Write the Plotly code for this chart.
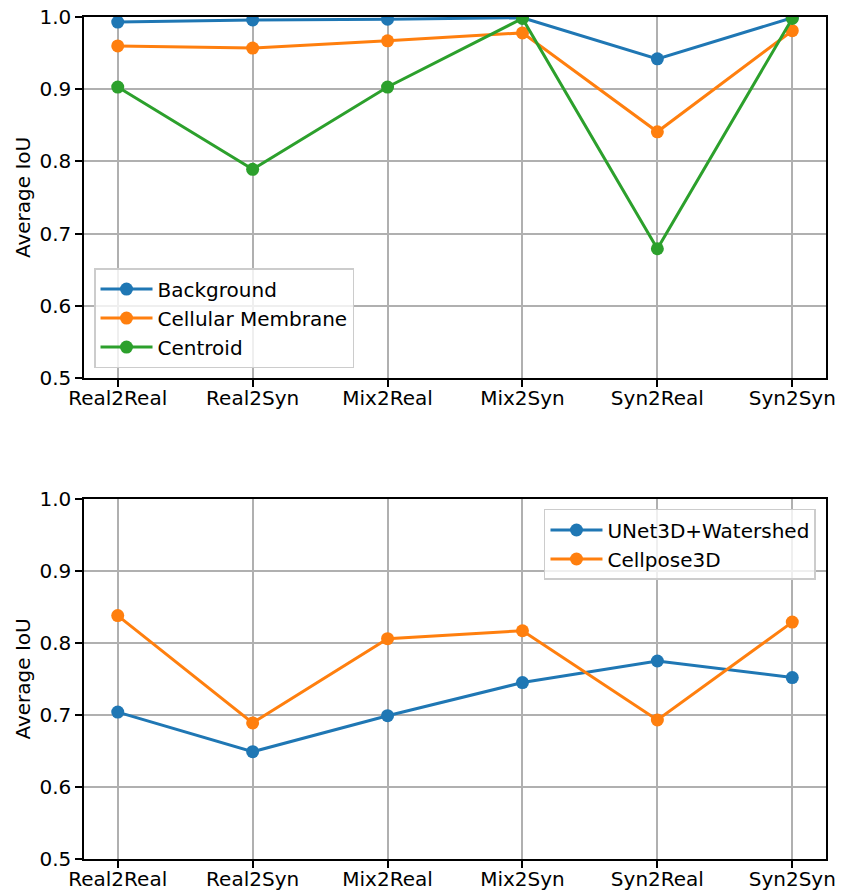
import plotly.graph_objects as go
from plotly.subplots import make_subplots

categories = ["Real2Real", "Real2Syn", "Mix2Real", "Mix2Syn", "Syn2Real", "Syn2Syn"]

background = [0.993, 0.996, 0.997, 0.999, 0.942, 0.999]
membrane = [0.960, 0.957, 0.967, 0.978, 0.841, 0.981]
centroid = [0.903, 0.789, 0.903, 0.998, 0.679, 0.998]

unet = [0.704, 0.649, 0.699, 0.745, 0.775, 0.752]
cellpose = [0.838, 0.689, 0.806, 0.817, 0.693, 0.829]

yticks = [0.5, 0.6, 0.7, 0.8, 0.9, 1.0]

C_BLUE = "#1f77b4"
C_ORANGE = "#ff7f0e"
C_GREEN = "#2ca02c"
FONT = "DejaVu Sans"
FS = 20

fig = make_subplots(rows=2, cols=1, vertical_spacing=0.1437)
xs = list(range(len(categories)))


def add(y, name, color, row, legend):
    fig.add_trace(go.Scatter(
        x=xs, y=y, name=name, mode="lines+markers",
        line=dict(color=color, width=3),
        marker=dict(color=color, size=13),
        legend=legend,
    ), row=row, col=1)


add(background, "Background", C_BLUE, 1, "legend")
add(membrane, "Cellular Membrane", C_ORANGE, 1, "legend")
add(centroid, "Centroid", C_GREEN, 1, "legend")
add(unet, "UNet3D+Watershed", C_BLUE, 2, "legend2")
add(cellpose, "Cellpose3D", C_ORANGE, 2, "legend2")

axis_common = dict(
    showline=True, linecolor="black", linewidth=1.5, mirror=True,
    showgrid=True, gridcolor="#b0b0b0", gridwidth=1.5,
    ticks="outside", ticklen=7, tickwidth=1.5, tickcolor="black",
    tickfont=dict(family=FONT, size=FS, color="black"),
    zeroline=False, automargin=False,
)

for r, dom in ((1, [0.5713, 1.0]), (2, [0.0, 0.4276])):
    fig.update_xaxes(range=[-0.25, 5.25], tickmode="array", tickvals=xs,
                     ticktext=categories, ticklabelstandoff=-6,
                     row=r, col=1, **axis_common)
    fig.update_yaxes(range=[0.5, 1.0], tickmode="array", tickvals=yticks,
                     ticktext=[f"{v:.1f}" for v in yticks], domain=dom,
                     title=dict(text="Average IoU", font=dict(family=FONT, size=FS, color="black"), standoff=3),
                     row=r, col=1, **axis_common)

legend_common = dict(
    bgcolor="rgba(255,255,255,0.8)", bordercolor="#cccccc", borderwidth=1.5,
    font=dict(family=FONT, size=FS, color="black"),
    itemwidth=52,
)

fig.update_layout(
    width=844, height=891,
    margin=dict(l=84, r=18, t=17, b=32, autoexpand=False),
    plot_bgcolor="white", paper_bgcolor="white",
    font=dict(family=FONT, size=FS, color="black"),
    showlegend=True,
    legend=dict(x=0.0135, y=0.583, xanchor="left", yanchor="bottom", **legend_common),
    legend2=dict(x=0.9865, y=0.4157, xanchor="right", yanchor="top", **legend_common),
)

fig.write_html("out.html")
